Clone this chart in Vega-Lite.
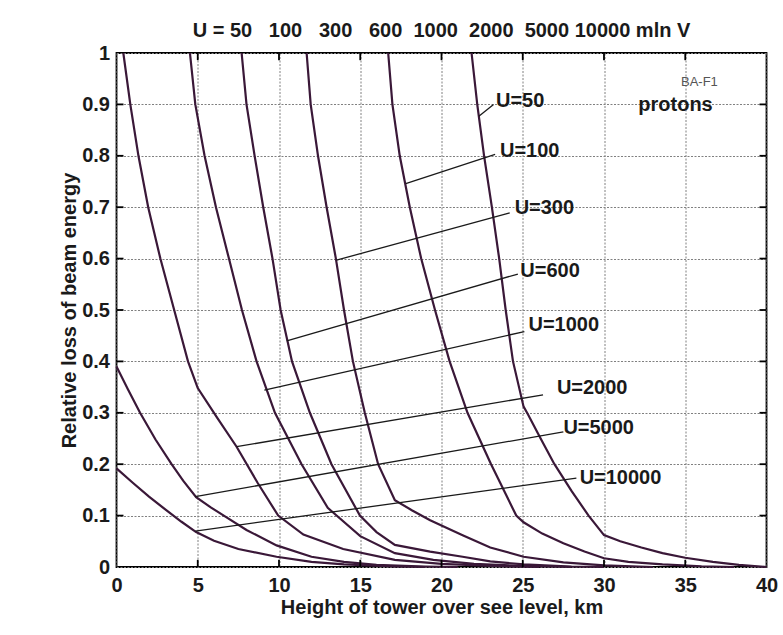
{
  "$schema": "https://vega.github.io/schema/vega-lite/v6.json",
  "width": 650,
  "height": 514,
  "autosize": {"type": "none"},
  "padding": {"left": 116.5, "top": 53, "right": 16.5, "bottom": 68},
  "background": "white",
  "title": {
    "text": "U = 50\u00a0\u00a0\u00a0100\u00a0\u00a0\u00a0300\u00a0\u00a0\u00a0600\u00a0\u00a01000\u00a0\u00a02000\u00a0\u00a05000 10000 mln V",
    "font": "Liberation Sans", "fontSize": 20, "fontWeight": "bold", "color": "#1a1a1a",
    "anchor": "middle", "offset": 2
  },
  "config": {
    "view": {"stroke": "#000000", "strokeWidth": 1.8},
    "font": "Liberation Sans",
    "axis": {
      "labelFont": "Liberation Sans", "labelFontSize": 20, "labelFontWeight": "bold", "labelColor": "#1a1a1a",
      "titleFont": "Liberation Sans", "titleFontSize": 20, "titleFontWeight": "bold", "titleColor": "#1a1a1a",
      "domain": false, "ticks": false,
      "gridColor": "#808080", "gridWidth": 1, "gridOpacity": 1, "gridDash": [2, 1.5]
    }
  },
  "datasets": {
    "curves": [
      {"U": "50", "x": 21.85, "y": 1}, {"U": "50", "x": 22.2, "y": 0.9}, {"U": "50", "x": 22.62, "y": 0.8}, {"U": "50", "x": 23.1, "y": 0.7}, {"U": "50", "x": 23.55, "y": 0.6}, {"U": "50", "x": 23.95, "y": 0.5}, {"U": "50", "x": 24.4, "y": 0.4}, {"U": "50", "x": 25.05, "y": 0.312}, {"U": "50", "x": 25.3, "y": 0.298}, {"U": "50", "x": 26.1, "y": 0.25}, {"U": "50", "x": 26.95, "y": 0.2}, {"U": "50", "x": 28, "y": 0.148}, {"U": "50", "x": 29.05, "y": 0.1}, {"U": "50", "x": 30, "y": 0.062}, {"U": "50", "x": 31, "y": 0.05}, {"U": "50", "x": 32.3, "y": 0.038}, {"U": "50", "x": 33.6, "y": 0.027}, {"U": "50", "x": 35, "y": 0.018}, {"U": "50", "x": 36.7, "y": 0.01}, {"U": "50", "x": 38.3, "y": 0.004}, {"U": "50", "x": 40, "y": 0},
      {"U": "100", "x": 16.72, "y": 1}, {"U": "100", "x": 16.98, "y": 0.9}, {"U": "100", "x": 17.43, "y": 0.8}, {"U": "100", "x": 18.05, "y": 0.7}, {"U": "100", "x": 18.75, "y": 0.6}, {"U": "100", "x": 19.6, "y": 0.5}, {"U": "100", "x": 20.5, "y": 0.4}, {"U": "100", "x": 21.6, "y": 0.3}, {"U": "100", "x": 23.05, "y": 0.2}, {"U": "100", "x": 24.6, "y": 0.1}, {"U": "100", "x": 25.05, "y": 0.087}, {"U": "100", "x": 26.2, "y": 0.065}, {"U": "100", "x": 27.5, "y": 0.046}, {"U": "100", "x": 28.8, "y": 0.03}, {"U": "100", "x": 30, "y": 0.017}, {"U": "100", "x": 31.5, "y": 0.01}, {"U": "100", "x": 33.6, "y": 0.005}, {"U": "100", "x": 36, "y": 0.0015}, {"U": "100", "x": 38, "y": 0},
      {"U": "300", "x": 11.7, "y": 1}, {"U": "300", "x": 11.95, "y": 0.9}, {"U": "300", "x": 12.4, "y": 0.8}, {"U": "300", "x": 12.93, "y": 0.7}, {"U": "300", "x": 13.5, "y": 0.6}, {"U": "300", "x": 14.0, "y": 0.5}, {"U": "300", "x": 14.55, "y": 0.4}, {"U": "300", "x": 15.28, "y": 0.3}, {"U": "300", "x": 16.1, "y": 0.2}, {"U": "300", "x": 17.13, "y": 0.13}, {"U": "300", "x": 18.2, "y": 0.11}, {"U": "300", "x": 19.3, "y": 0.091}, {"U": "300", "x": 21.3, "y": 0.062}, {"U": "300", "x": 23, "y": 0.038}, {"U": "300", "x": 25.05, "y": 0.02}, {"U": "300", "x": 27.5, "y": 0.009}, {"U": "300", "x": 30, "y": 0.003}, {"U": "300", "x": 33, "y": 0},
      {"U": "600", "x": 7.7, "y": 1}, {"U": "600", "x": 8.0, "y": 0.9}, {"U": "600", "x": 8.5, "y": 0.8}, {"U": "600", "x": 9.03, "y": 0.7}, {"U": "600", "x": 9.6, "y": 0.6}, {"U": "600", "x": 10.1, "y": 0.5}, {"U": "600", "x": 10.8, "y": 0.4}, {"U": "600", "x": 11.9, "y": 0.3}, {"U": "600", "x": 13.23, "y": 0.2}, {"U": "600", "x": 14.98, "y": 0.1}, {"U": "600", "x": 16, "y": 0.068}, {"U": "600", "x": 17.13, "y": 0.043}, {"U": "600", "x": 19.3, "y": 0.03}, {"U": "600", "x": 21.3, "y": 0.02}, {"U": "600", "x": 23, "y": 0.011}, {"U": "600", "x": 25.05, "y": 0.005}, {"U": "600", "x": 28, "y": 0.001}, {"U": "600", "x": 30, "y": 0},
      {"U": "1000", "x": 4.52, "y": 1}, {"U": "1000", "x": 4.85, "y": 0.9}, {"U": "1000", "x": 5.42, "y": 0.8}, {"U": "1000", "x": 6.12, "y": 0.7}, {"U": "1000", "x": 6.92, "y": 0.6}, {"U": "1000", "x": 7.72, "y": 0.5}, {"U": "1000", "x": 8.62, "y": 0.4}, {"U": "1000", "x": 9.75, "y": 0.3}, {"U": "1000", "x": 11.39, "y": 0.2}, {"U": "1000", "x": 13.0, "y": 0.115}, {"U": "1000", "x": 15, "y": 0.06}, {"U": "1000", "x": 17.13, "y": 0.027}, {"U": "1000", "x": 19.5, "y": 0.014}, {"U": "1000", "x": 22, "y": 0.006}, {"U": "1000", "x": 25, "y": 0.002}, {"U": "1000", "x": 28, "y": 0},
      {"U": "2000", "x": 0.42, "y": 1}, {"U": "2000", "x": 0.85, "y": 0.9}, {"U": "2000", "x": 1.35, "y": 0.8}, {"U": "2000", "x": 1.95, "y": 0.7}, {"U": "2000", "x": 2.7, "y": 0.6}, {"U": "2000", "x": 3.55, "y": 0.5}, {"U": "2000", "x": 4.4, "y": 0.4}, {"U": "2000", "x": 5.0, "y": 0.348}, {"U": "2000", "x": 6.2, "y": 0.29}, {"U": "2000", "x": 7.39, "y": 0.234}, {"U": "2000", "x": 8.7, "y": 0.163}, {"U": "2000", "x": 9.95, "y": 0.1}, {"U": "2000", "x": 11.5, "y": 0.063}, {"U": "2000", "x": 13.95, "y": 0.035}, {"U": "2000", "x": 17.13, "y": 0.014}, {"U": "2000", "x": 20, "y": 0.006}, {"U": "2000", "x": 23, "y": 0.002}, {"U": "2000", "x": 26, "y": 0},
      {"U": "5000", "x": 0, "y": 0.39}, {"U": "5000", "x": 0.7, "y": 0.346}, {"U": "5000", "x": 1.45, "y": 0.3}, {"U": "5000", "x": 2.4, "y": 0.248}, {"U": "5000", "x": 3.39, "y": 0.2}, {"U": "5000", "x": 4.1, "y": 0.168}, {"U": "5000", "x": 4.9, "y": 0.136}, {"U": "5000", "x": 5.8, "y": 0.116}, {"U": "5000", "x": 6.7, "y": 0.098}, {"U": "5000", "x": 8, "y": 0.072}, {"U": "5000", "x": 9.85, "y": 0.042}, {"U": "5000", "x": 12, "y": 0.02}, {"U": "5000", "x": 14, "y": 0.01}, {"U": "5000", "x": 16, "y": 0.004}, {"U": "5000", "x": 19, "y": 0.001}, {"U": "5000", "x": 21, "y": 0},
      {"U": "10000", "x": 0, "y": 0.192}, {"U": "10000", "x": 1, "y": 0.164}, {"U": "10000", "x": 2, "y": 0.137}, {"U": "10000", "x": 3, "y": 0.112}, {"U": "10000", "x": 4, "y": 0.088}, {"U": "10000", "x": 4.9, "y": 0.068}, {"U": "10000", "x": 6, "y": 0.051}, {"U": "10000", "x": 7.5, "y": 0.035}, {"U": "10000", "x": 9.85, "y": 0.02}, {"U": "10000", "x": 12, "y": 0.01}, {"U": "10000", "x": 14, "y": 0.005}, {"U": "10000", "x": 17, "y": 0.001}, {"U": "10000", "x": 19, "y": 0}
    ],
    "leaders": [
      {"label": "U=50", "x": 22.3, "y": 0.877, "x2": 23.2, "y2": 0.9},
      {"label": "U=100", "x": 17.8, "y": 0.746, "x2": 23.3, "y2": 0.803},
      {"label": "U=300", "x": 13.54, "y": 0.597, "x2": 24.2, "y2": 0.689},
      {"label": "U=600", "x": 10.48, "y": 0.44, "x2": 24.7, "y2": 0.57},
      {"label": "U=1000", "x": 9.1, "y": 0.344, "x2": 25.1, "y2": 0.458},
      {"label": "U=2000", "x": 7.39, "y": 0.234, "x2": 26.25, "y2": 0.335},
      {"label": "U=5000", "x": 4.85, "y": 0.137, "x2": 27.5, "y2": 0.263},
      {"label": "U=10000", "x": 4.85, "y": 0.07, "x2": 28.3, "y2": 0.173}
    ],
    "labels": [
      {"label": "U=50", "x": 23.35, "y": 0.907},
      {"label": "U=100", "x": 23.6, "y": 0.809},
      {"label": "U=300", "x": 24.5, "y": 0.698},
      {"label": "U=600", "x": 24.85, "y": 0.576},
      {"label": "U=1000", "x": 25.35, "y": 0.471},
      {"label": "U=2000", "x": 27.1, "y": 0.349},
      {"label": "U=5000", "x": 27.5, "y": 0.27},
      {"label": "U=10000", "x": 28.5, "y": 0.174}
    ],
    "notes": [
      {"text": "protons", "x": 34.4, "y": 0.898, "kind": "big"},
      {"text": "BA-F1", "x": 35.87, "y": 0.944, "kind": "small"}
    ],
    "xticks": [{"x": 5}, {"x": 10}, {"x": 15}, {"x": 20}, {"x": 25}, {"x": 30}, {"x": 35}],
    "yticks": [{"y": 0.1}, {"y": 0.2}, {"y": 0.3}, {"y": 0.4}, {"y": 0.5}, {"y": 0.6}, {"y": 0.7}, {"y": 0.8}, {"y": 0.9}]
  },
  "layer": [
    {
      "data": {"name": "curves"},
      "mark": {"type": "line", "color": "#3a1838", "strokeWidth": 2.2},
      "encoding": {
        "x": {"field": "x", "type": "quantitative",
              "scale": {"domain": [0, 40], "nice": false, "zero": false},
              "axis": {"orient": "bottom", "values": [0, 5, 10, 15, 20, 25, 30, 35, 40], "format": "d",
                       "grid": true, "labelPadding": 8, "labelFlush": false,
                       "title": "Height of tower over see level, km", "titlePadding": 2}},
        "y": {"field": "y", "type": "quantitative",
              "scale": {"domain": [0, 1], "nice": false, "zero": false},
              "axis": {"orient": "left", "tickCount": 10, "format": "~g",
                       "grid": true, "labelPadding": 7, "labelFlush": false,
                       "title": "Relative loss of beam energy", "titlePadding": 2}},
        "detail": {"field": "U"},
        "order": {"field": "x", "type": "quantitative"}
      }
    },
    {
      "data": {"name": "leaders"},
      "mark": {"type": "rule", "color": "#1a1a1a", "strokeWidth": 1.3},
      "encoding": {
        "x": {"field": "x", "type": "quantitative"},
        "y": {"field": "y", "type": "quantitative"},
        "x2": {"field": "x2"},
        "y2": {"field": "y2"}
      }
    },
    {
      "data": {"name": "labels"},
      "mark": {"type": "text", "align": "left", "baseline": "middle", "font": "Liberation Sans", "fontSize": 20, "fontWeight": "bold", "color": "#1a1a1a"},
      "encoding": {
        "x": {"field": "x", "type": "quantitative"},
        "y": {"field": "y", "type": "quantitative"},
        "text": {"field": "label"}
      }
    },
    {
      "data": {"name": "notes"},
      "transform": [{"filter": "datum.kind === 'big'"}],
      "mark": {"type": "text", "align": "center", "baseline": "middle", "font": "Liberation Sans", "fontSize": 20, "fontWeight": "bold", "color": "#1a1a1a"},
      "encoding": {
        "x": {"field": "x", "type": "quantitative"},
        "y": {"field": "y", "type": "quantitative"},
        "text": {"field": "text"}
      }
    },
    {
      "data": {"name": "notes"},
      "transform": [{"filter": "datum.kind === 'small'"}],
      "mark": {"type": "text", "align": "center", "baseline": "middle", "font": "Liberation Sans", "fontSize": 13, "color": "#555555"},
      "encoding": {
        "x": {"field": "x", "type": "quantitative"},
        "y": {"field": "y", "type": "quantitative"},
        "text": {"field": "text"}
      }
    },
    {
      "data": {"name": "xticks"},
      "mark": {"type": "rule", "color": "#000000", "strokeWidth": 1.8},
      "encoding": {
        "x": {"field": "x", "type": "quantitative"},
        "y": {"datum": 1, "type": "quantitative"},
        "y2": {"datum": 0.986}
      }
    },
    {
      "data": {"name": "xticks"},
      "mark": {"type": "rule", "color": "#000000", "strokeWidth": 1.8},
      "encoding": {
        "x": {"field": "x", "type": "quantitative"},
        "y": {"datum": 0, "type": "quantitative"},
        "y2": {"datum": 0.014}
      }
    },
    {
      "data": {"name": "yticks"},
      "mark": {"type": "rule", "color": "#000000", "strokeWidth": 1.8},
      "encoding": {
        "y": {"field": "y", "type": "quantitative"},
        "x": {"datum": 0, "type": "quantitative"},
        "x2": {"datum": 0.43}
      }
    },
    {
      "data": {"name": "yticks"},
      "mark": {"type": "rule", "color": "#000000", "strokeWidth": 1.8},
      "encoding": {
        "y": {"field": "y", "type": "quantitative"},
        "x": {"datum": 40, "type": "quantitative"},
        "x2": {"datum": 39.57}
      }
    }
  ]
}
